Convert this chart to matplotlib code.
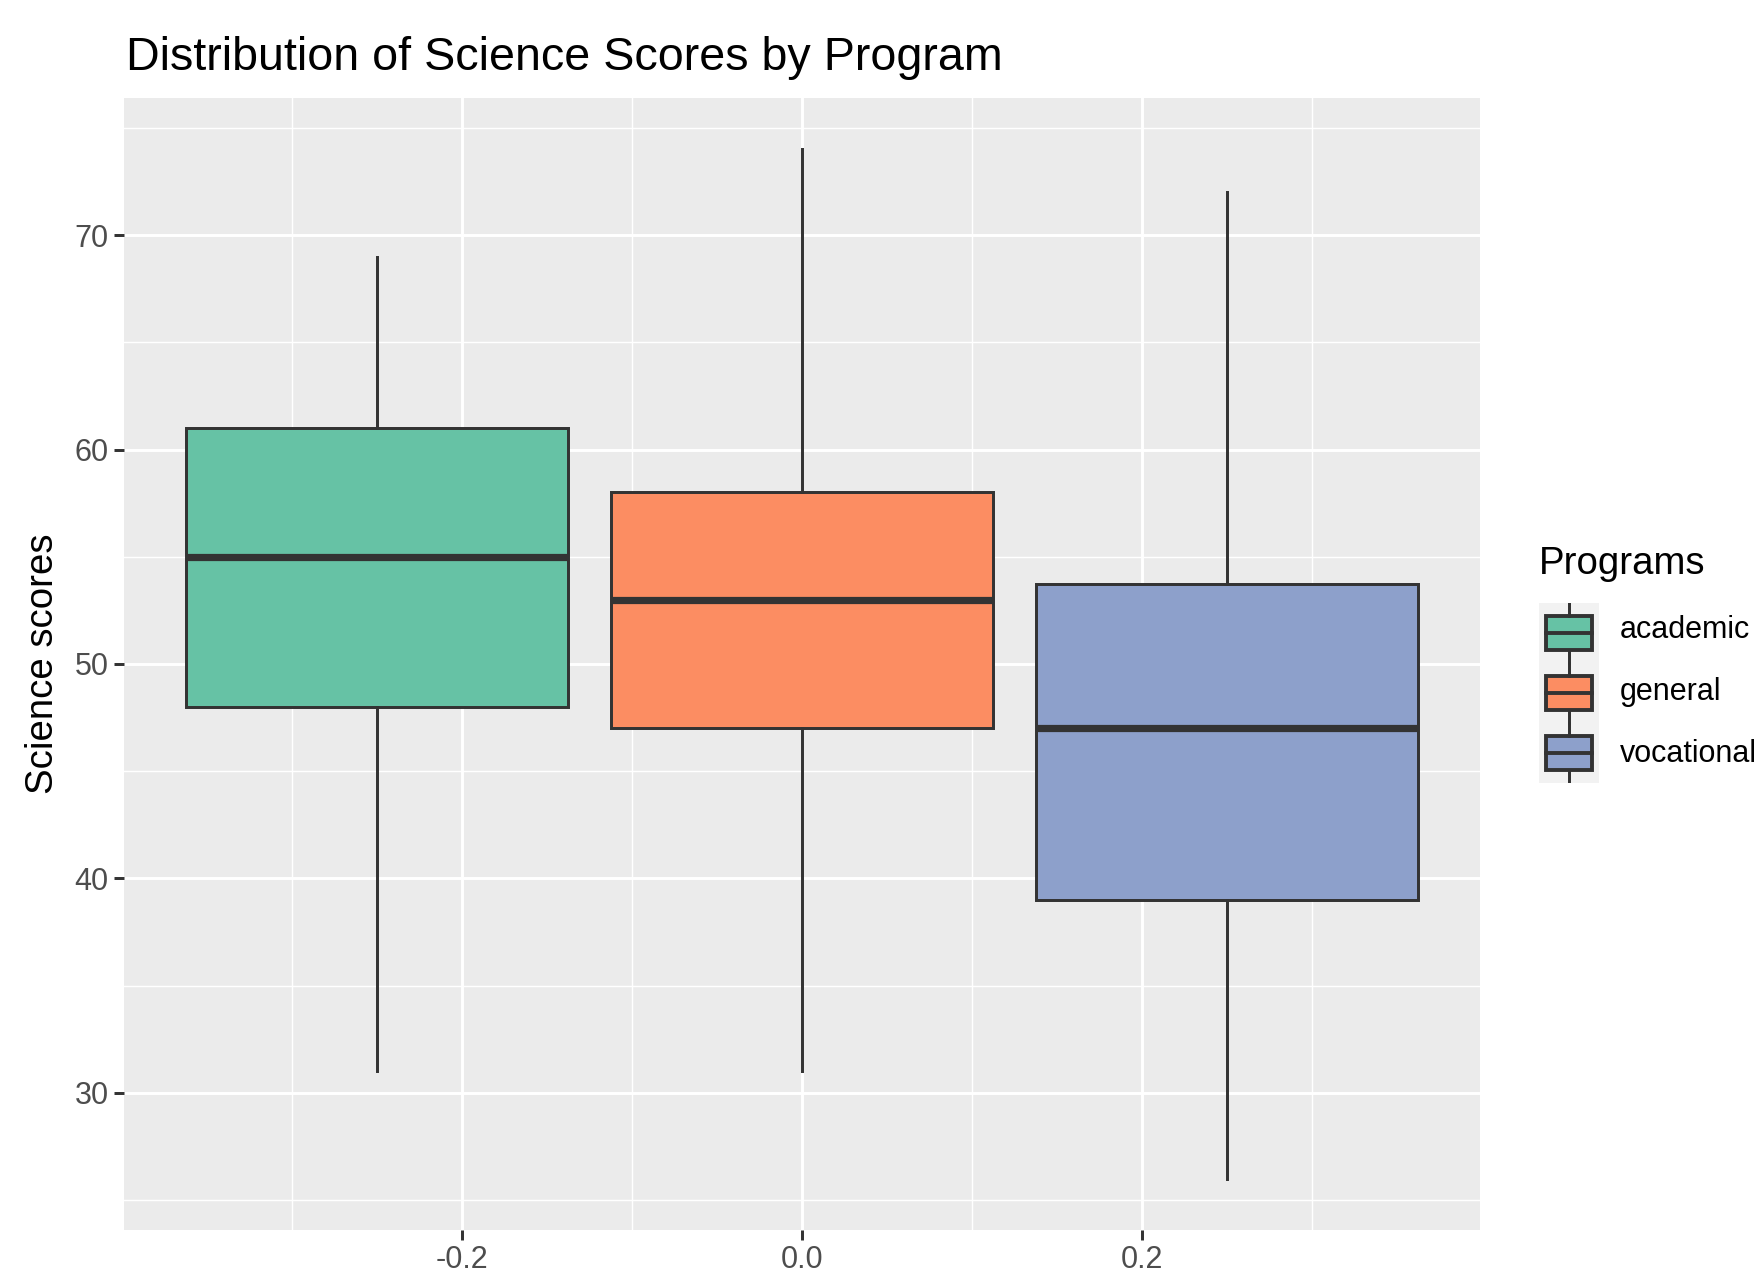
import matplotlib
matplotlib.use("Agg")
import matplotlib.pyplot as plt
from matplotlib.patches import Rectangle
from matplotlib.ticker import MultipleLocator

plt.rcParams['font.family'] = ['Liberation Sans', 'DejaVu Sans']

# data
programs = ['academic', 'general', 'vocational']
positions = [-0.25, 0.0, 0.25]
whisker_low = [31, 31, 26]
q1 = [48, 47, 39]
medians = [55, 53, 47]
q3 = [61, 58, 53.75]
whisker_high = [69, 74, 72]
colors = ['#66C2A5', '#FC8D62', '#8DA0CB']

edge = '#333333'
lw = 1.07

fig = plt.figure(figsize=(17.61 / 2, 12.69 / 2), dpi=200)
ax = fig.add_axes([124 / 1761, 1 - 1230 / 1269, (1480 - 124) / 1761, (1230 - 98) / 1269])
ax.set_facecolor('#EBEBEB')

stats = []
for i in range(len(programs)):
    stats.append({'whislo': whisker_low[i], 'q1': q1[i], 'med': medians[i],
                  'q3': q3[i], 'whishi': whisker_high[i], 'fliers': [],
                  'label': programs[i]})

bp = ax.bxp(stats, positions=positions, widths=0.225, patch_artist=True,
            showcaps=False, manage_ticks=False,
            boxprops=dict(edgecolor=edge, linewidth=lw),
            whiskerprops=dict(color=edge, linewidth=lw),
            medianprops=dict(color=edge, linewidth=2.6, solid_capstyle='butt'))
for patch, c in zip(bp['boxes'], colors):
    patch.set_facecolor(c)
for art in bp['boxes'] + bp['whiskers'] + bp['medians']:
    art.set_zorder(3)

ax.set_xlim(-0.39875, 0.39875)
ax.set_ylim(23.6, 76.4)
ax.xaxis.set_major_locator(MultipleLocator(0.2))
ax.xaxis.set_minor_locator(MultipleLocator(0.1))
ax.yaxis.set_major_locator(MultipleLocator(10))
ax.yaxis.set_minor_locator(MultipleLocator(5))
ax.xaxis.set_major_formatter(matplotlib.ticker.FuncFormatter(lambda v, p: f'{v:.1f}'))
ax.grid(which='major', color='white', linewidth=1.07)
ax.grid(which='minor', color='white', linewidth=0.53)
ax.set_axisbelow(True)
for s in ax.spines.values():
    s.set_visible(False)
ax.tick_params(which='major', length=3.5, width=1.07, color='#333333',
               labelsize=11, labelcolor='#4D4D4D', pad=2)
ax.tick_params(which='minor', length=0)

ax.set_ylabel('Science scores', fontsize=13.8, labelpad=5)
fig.text(126 / 1761, 1 - 70 / 1269, 'Distribution of Science Scores by Program',
         fontsize=16.8, ha='left', va='baseline')

# legend
fig.text(1539 / 1761, 1 - 564 / 1269, 'Programs', fontsize=13.8, ha='left', va='center')
lax = fig.add_axes([1539 / 1761, 1 - 783 / 1269, 60 / 1761, 180 / 1269])
lax.set_facecolor('#F2F2F2')
lax.set_xlim(0, 1)
lax.set_ylim(0, 3)
lax.set_xticks([])
lax.set_yticks([])
for s in lax.spines.values():
    s.set_visible(False)
for i, (name, c) in enumerate(zip(programs, colors)):
    cy = 2.5 - i
    lax.plot([0.5, 0.5], [cy - 0.5, cy - 0.28], color=edge, linewidth=lw)
    lax.plot([0.5, 0.5], [cy + 0.28, cy + 0.5], color=edge, linewidth=lw)
    lax.add_patch(Rectangle((0.12, cy - 0.28), 0.76, 0.56, facecolor=c,
                            edgecolor=edge, linewidth=1.4))
    lax.plot([0.12, 0.88], [cy, cy], color=edge, linewidth=1.4)
    fig.text(1620 / 1761, 1 - (630 + 62 * i) / 1269, name, fontsize=11,
             ha='left', va='center')

fig.savefig('out.png', dpi=200)
